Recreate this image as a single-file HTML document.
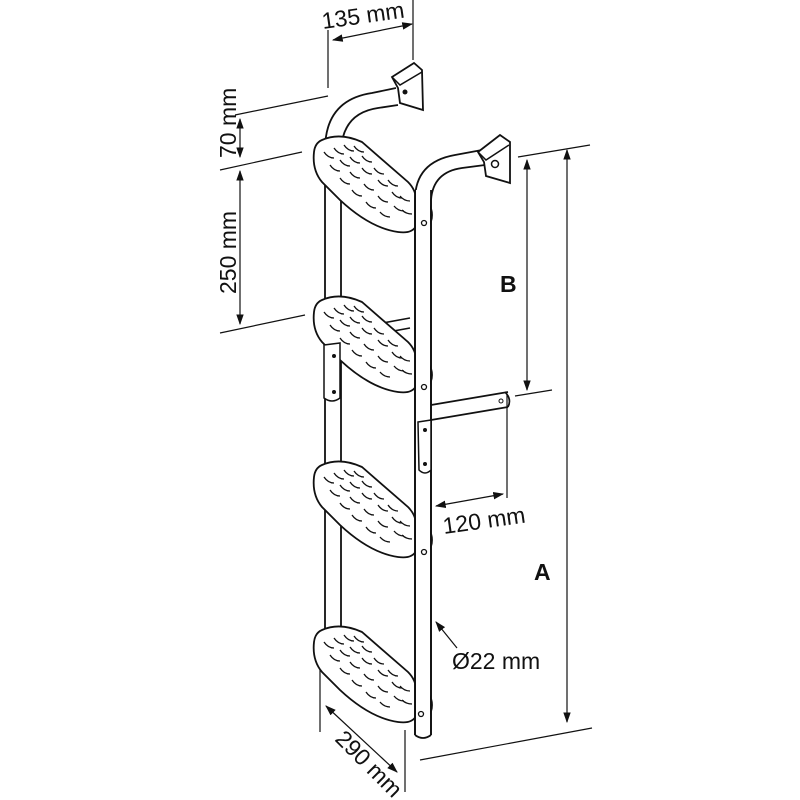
<!DOCTYPE html>
<html><head><meta charset="utf-8"><style>
html,body{margin:0;padding:0;background:#fff}
svg{display:block}
text{font-family:"Liberation Sans",sans-serif;fill:#111}
</style></head><body>
<svg width="800" height="800" viewBox="0 0 800 800" xmlns="http://www.w3.org/2000/svg">
<defs>
<marker id="ar" viewBox="0 0 10 10" refX="9" refY="5" markerWidth="9" markerHeight="9" orient="auto-start-reverse"><path d="M0,1.5 L10,5 L0,8.5 z" fill="#111"/></marker>
<g id="tread">
<path d="M322,140 Q340,132 362,142 L408,182 Q416,190 416,200 L416,226 Q412,234 398,232 Q370,228 340,200 L322,182 Q312,170 314,152 Q315,143 322,140 Z" fill="#fff" stroke="#111" stroke-width="1.8"/>
<g fill="none" stroke="#111" stroke-width="1.3">
<path d="M324,152 q4,6 10,6"/><path d="M334,148 q4,6 10,6"/><path d="M344,145 q4,6 10,6"/><path d="M354,146 q4,6 10,6"/>
<path d="M330,165 q4,6 10,6"/><path d="M340,160 q4,6 10,6"/><path d="M350,157 q4,6 10,6"/><path d="M362,156 q4,6 10,6"/>
<path d="M340,178 q4,6 10,6"/><path d="M350,172 q4,6 10,6"/><path d="M362,168 q4,6 10,6"/><path d="M374,168 q4,6 10,6"/>
<path d="M352,190 q4,6 10,6"/><path d="M364,184 q4,6 10,6"/><path d="M378,180 q4,6 10,6"/><path d="M388,180 q4,6 10,6"/>
<path d="M366,202 q4,6 10,6"/><path d="M378,196 q4,6 10,6"/><path d="M392,192 q4,6 10,6"/><path d="M400,196 q4,5 10,5"/>
<path d="M380,212 q4,5 10,5"/><path d="M394,206 q4,5 10,5"/><path d="M402,210 q4,4 10,4"/>
</g>
<path d="M418,200 Q432,202 432,215 Q432,228 418,230" fill="#fff" stroke="#111" stroke-width="1.8"/>
</g>
</defs>

<path d="M325,650 L325,150 Q325,100 372,93 L396,88" fill="none" stroke="#111" stroke-width="1.8"/>
<path d="M341,650 L341,150 Q343,113 378,108 L398,105" fill="none" stroke="#111" stroke-width="1.8"/>
<path d="M392,77 L414,63 L422,70 L423,110 L400,103 L398,88 Z" fill="#fff" stroke="#111" stroke-width="1.8"/>
<path d="M392,77 L400,85 L422,72" fill="none" stroke="#111" stroke-width="1.5"/>
<circle cx="405" cy="92" r="2.5" fill="#111"/>

<path d="M345,330 L410,318 M345,340 L410,328" stroke="#111" stroke-width="1.6"/>

<use href="#tread"/>
<use href="#tread" transform="translate(0,160)"/>
<use href="#tread" transform="translate(0,325)"/>
<use href="#tread" transform="translate(0,490)"/>

<path d="M415,735 L415,200 Q415,162 455,155 L482,150" fill="none" stroke="#111" stroke-width="1.8"/>
<path d="M431,735 L431,200 Q433,172 462,168 L485,165" fill="none" stroke="#111" stroke-width="1.8"/>
<path d="M415,735 Q423,741 431,735" fill="none" stroke="#111" stroke-width="1.8"/>
<rect x="416" y="190" width="14" height="544" fill="#fff"/>
<path d="M415,190 L415,735 M431,190 L431,735" stroke="#111" stroke-width="1.8"/>
<path d="M478,152 L500,135 L510,142 L510,183 L486,176 L484,162 Z" fill="#fff" stroke="#111" stroke-width="1.8"/>
<path d="M478,152 L486,160 L509,145" fill="none" stroke="#111" stroke-width="1.5"/>
<circle cx="495" cy="164" r="3.5" fill="#fff" stroke="#111" stroke-width="1.5"/>
<g fill="#fff" stroke="#111" stroke-width="1.3">
<circle cx="424" cy="223" r="2.5"/><circle cx="424" cy="387" r="2.5"/><circle cx="424" cy="552" r="2.5"/><circle cx="421" cy="714" r="2.5"/>
</g>
<path d="M431,405 L508,392 M431,420 L508,407" stroke="#111" stroke-width="1.7"/>
<path d="M505,392 Q512,399 508,407" fill="none" stroke="#111" stroke-width="1.7"/>
<circle cx="501" cy="401" r="2" fill="#fff" stroke="#111"/>
<path d="M418,422 L431,420 L431,470 Q425,476 419,470 Z" fill="#fff" stroke="#111" stroke-width="1.5"/>
<circle cx="425" cy="430" r="2" fill="#111"/><circle cx="425" cy="464" r="2" fill="#111"/>
<path d="M324,345 L340,343 L340,398 Q332,404 324,398 Z" fill="#fff" stroke="#111" stroke-width="1.5"/>
<circle cx="334" cy="356" r="2" fill="#111"/><circle cx="334" cy="392" r="2" fill="#111"/>

<g stroke="#111" stroke-width="1.2" fill="none">
<path d="M328,30 L328,88"/><path d="M413,0 L413,60"/>
<path d="M333,40 L412,24" marker-start="url(#ar)" marker-end="url(#ar)"/>
<path d="M235,115 L328,96"/><path d="M220,170 L302,152"/><path d="M220,333 L305,315"/>
<path d="M240,119 L240,157" marker-start="url(#ar)" marker-end="url(#ar)"/>
<path d="M240,171 L240,324" marker-start="url(#ar)" marker-end="url(#ar)"/>
<path d="M518,157 L590,145"/><path d="M515,396 L552,390"/>
<path d="M527,160 L527,390" marker-start="url(#ar)" marker-end="url(#ar)"/>
<path d="M567,150 L567,722" marker-start="url(#ar)" marker-end="url(#ar)"/>
<path d="M420,760 L592,728"/>
<path d="M507,395 L507,498"/>
<path d="M436,506 L503,494" marker-start="url(#ar)" marker-end="url(#ar)"/>
<path d="M457,648 L436,622" marker-end="url(#ar)"/>
<path d="M320,670 L320,732"/><path d="M405,730 L405,792"/>
<path d="M326,706 L397,772" marker-start="url(#ar)" marker-end="url(#ar)"/>
</g>
<text x="323" y="29" font-size="23" transform="rotate(-8 323 29)">135 mm</text>
<text x="0" y="0" font-size="23" transform="translate(236,158) rotate(-90)">70 mm</text>
<text x="0" y="0" font-size="23" transform="translate(236,294) rotate(-90)">250 mm</text>
<text x="500" y="292" font-size="23" font-weight="bold">B</text>
<text x="534" y="580" font-size="23" font-weight="bold">A</text>
<text x="444" y="534" font-size="23" transform="rotate(-8 444 534)">120 mm</text>
<text x="452" y="669" font-size="23">Ø22 mm</text>
<text x="0" y="0" font-size="23" transform="translate(334,740) rotate(45)">290 mm</text>
</svg>
</body></html>
